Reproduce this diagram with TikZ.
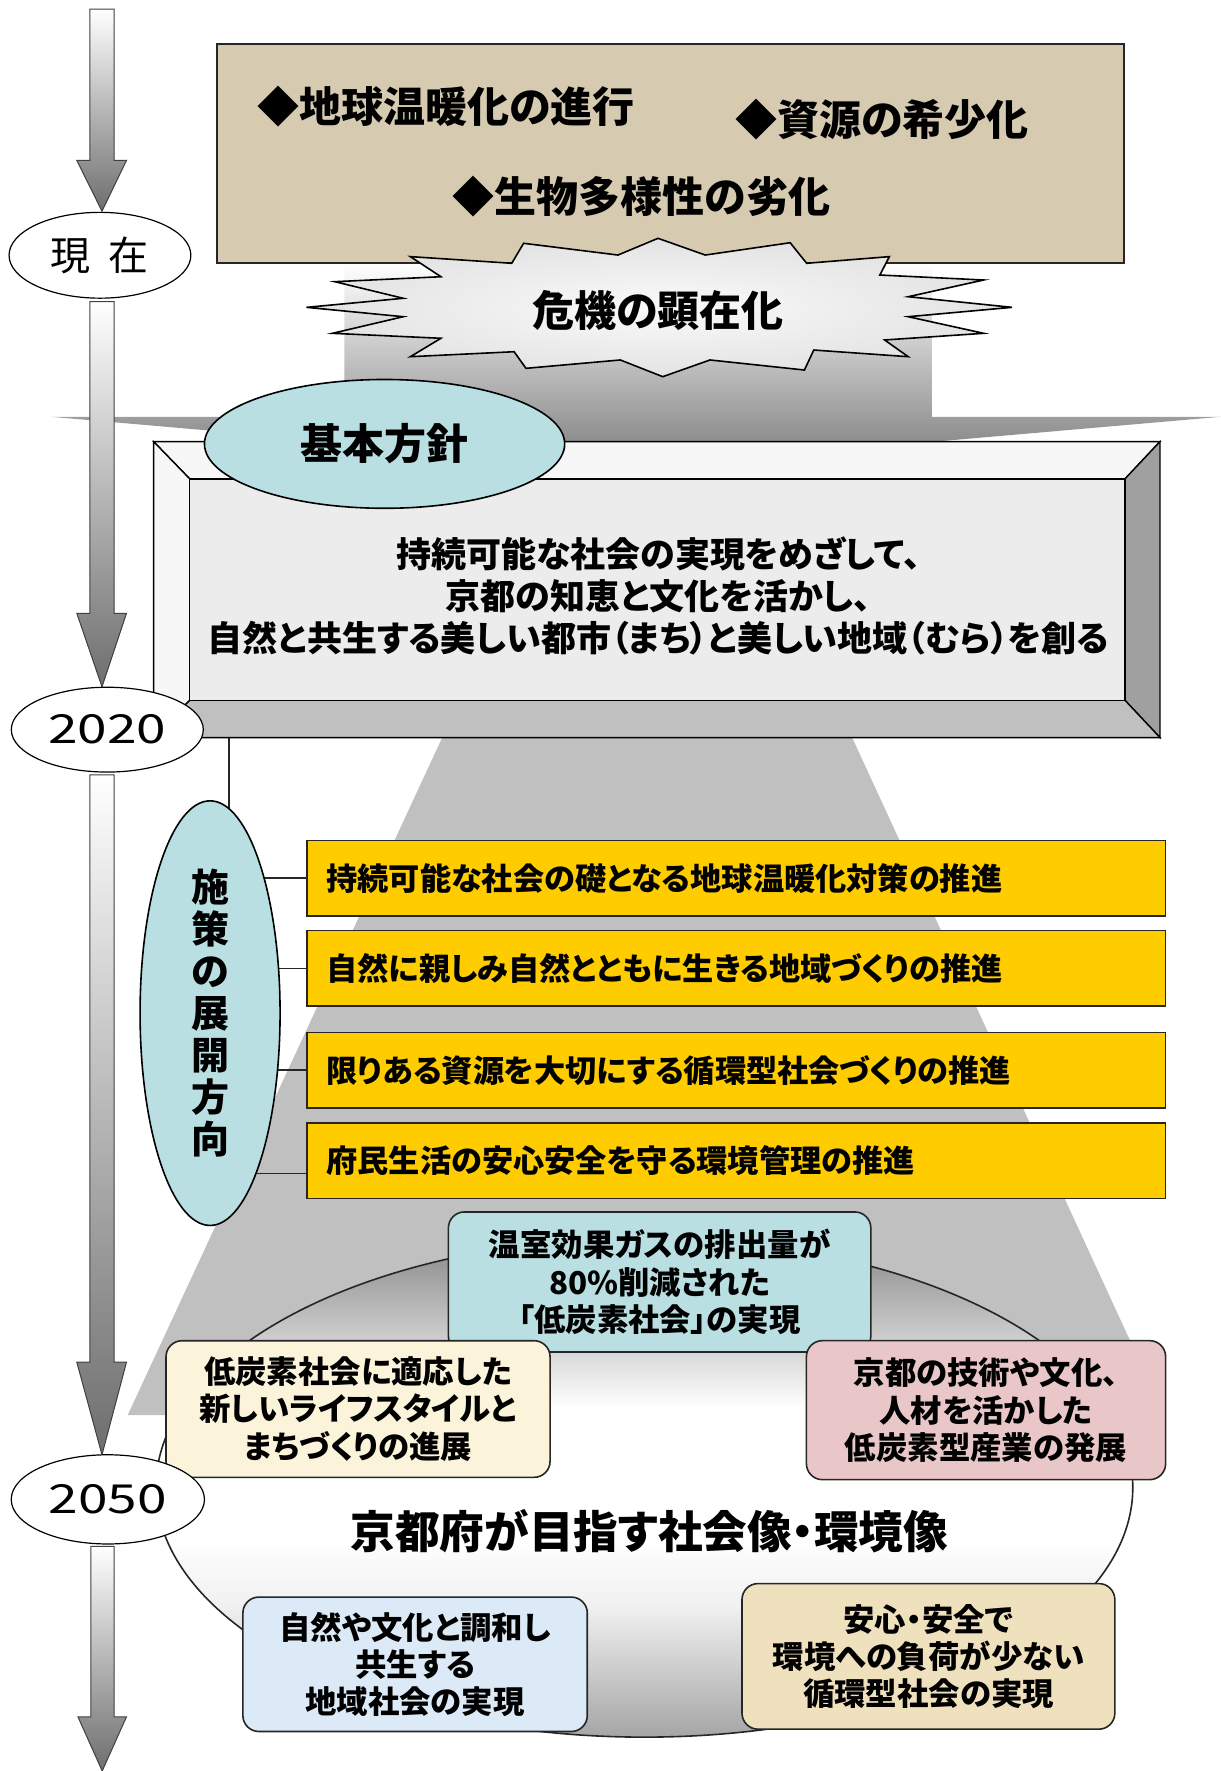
\documentclass[tikz,border=0pt]{standalone}
\usepackage{fontspec}
\usepackage{graphicx}
\setmainfont{Noto Sans CJK JP}[RawFeature=+palt]
\newfontfamily\plainjp{Noto Sans CJK JP}
\usetikzlibrary{shapes.geometric,calc}
\pgfdeclarelayer{back}
\pgfdeclarelayer{mid}
\pgfsetlayers{back,mid,main}
\definecolor{beige}{RGB}{214,202,177}
\definecolor{granite}{RGB}{236,236,236}
\definecolor{tealc}{RGB}{185,223,226}
\definecolor{yelc}{RGB}{255,204,0}
\definecolor{creamc}{RGB}{252,244,218}
\definecolor{pinkc}{RGB}{233,199,200}
\definecolor{lbluec}{RGB}{220,233,246}
\definecolor{tanc}{RGB}{240,225,190}
\definecolor{trapc}{RGB}{192,192,192}
\definecolor{wedgec}{RGB}{125,125,125}
\definecolor{arrc}{RGB}{110,110,110}
\definecolor{facetop}{RGB}{247,247,247}
\definecolor{faceright}{RGB}{160,160,160}
\definecolor{facebot}{RGB}{192,192,192}
\definecolor{shtop}{RGB}{135,135,135}
\definecolor{shbot}{RGB}{165,165,165}
\definecolor{shmid}{RGB}{240,240,240}
\pgfdeclareverticalshading{ballshade}{100bp}{color(0bp)=(shbot); color(25bp)=(shbot); color(38bp)=(shmid); color(45bp)=(white); color(58bp)=(white); color(75bp)=(shtop); color(100bp)=(shtop)}
\begin{document}
\begin{tikzpicture}[x=0.5647pt,y=-0.5647pt,
  every node/.style={inner sep=0pt, outer sep=0pt},
  bigtxt/.style={font=\bfseries\fontsize{21pt}{25pt}\selectfont},
  midtxt/.style={font=\bfseries\fontsize{17.5pt}{21pt}\selectfont},
  boxtxt/.style={font=\bfseries\fontsize{15.7pt}{18.6pt}\selectfont, align=center},
  yelbox/.style={draw=black!85, line width=0.8pt, fill=yelc, minimum width=429.2pt, minimum height=37.8pt, text width=409.9pt, inner xsep=9.6pt, align=left, anchor=north west, font=\bfseries\fontsize{15.6pt}{18pt}\selectfont},
  rbox/.style={draw=black!85, line width=0.8pt, rounded corners=8pt, boxtxt},
  timearrow/.style={draw=black!75, line width=0.5pt, top color=white, bottom color=arrc},
  timeell/.style={ellipse, draw=black, line width=0.6pt, fill=white, font=\plainjp\fontsize{20pt}{24pt}\selectfont},
  conn/.style={draw=black!85, line width=0.8pt}
]
\useasboundingbox (0,0) rectangle (1081,1568);
\clip (0,0) rectangle (1081,1568);

% background shapes
\begin{pgfonlayer}{back}
\fill[trapc] (392,652) -- (754,652) -- (1031,1253) -- (113,1253) -- cycle;
\shade[top color=white, bottom color=wedgec] (305,233) -- (825,233) -- (825,369) -- (1081,369) -- (563,414) -- (45,369) -- (305,369) -- cycle;
\end{pgfonlayer}

% timeline arrows
\draw[timearrow] (79.5,8) -- (101,8) -- (101,142) -- (112,142) -- (90.3,187) -- (68,142) -- (79.5,142) -- cycle;
\draw[timearrow] (79.5,267) -- (101,267) -- (101,543) -- (112,543) -- (90.3,608) -- (68,543) -- (79.5,543) -- cycle;
\draw[timearrow] (79.5,686) -- (101,686) -- (101,1206) -- (112,1206) -- (90.3,1288) -- (68,1206) -- (79.5,1206) -- cycle;
\draw[timearrow] (80.5,1369) -- (101,1369) -- (101,1520) -- (112,1520) -- (90.5,1568) -- (69,1520) -- (80.5,1520) -- cycle;

% top box with issues
\node[draw=black!85, line width=0.8pt, fill=beige, minimum width=453.5pt, minimum height=109.6pt, anchor=north west] (issues) at (192,39) {};
\node[bigtxt, anchor=west] (i1) at (228,94) {◆地球温暖化の進行};
\node[bigtxt] (i2) at (781,106) {◆資源の希少化};
\node[bigtxt] (i3) at (568,174) {◆生物多様性の劣化};

% starburst
\draw[black, line width=0.8pt, inner color=gray!4, outer color=gray!22]
 (582.6,211) -- (624.4,225.8) -- (699.6,214.9) -- (714.2,233.1) -- (787.4,227.2) -- (779,243.5) -- (870.9,247.9) -- (804.1,262.7) -- (896,272.1) -- (804.1,280.4) -- (870.9,295.1) -- (783.2,301) -- (804.1,315.8) -- (720.5,309.9) -- (712.2,327.6) -- (628.6,318.7) -- (586.8,333.5) -- (549.2,318.7) -- (465.7,326.1) -- (455.2,311.4) -- (363.3,315.8) -- (390.4,299.5) -- (294.4,295.1) -- (357,280.4) -- (271.4,272.1) -- (357,264.1) -- (296.4,249.4) -- (390.4,245) -- (363.3,227.2) -- (453.1,233.1) -- (463.6,215.4) -- (547.1,225.8) -- cycle;
\node[bigtxt] (crisis) at (582.5,275) {危機の顕在化};

% bevel frame
\draw[line width=0.7pt, fill=facetop] (136,391) -- (1027,391) -- (996,424) -- (168,424) -- cycle;
\draw[line width=0.7pt, fill=facetop] (136,391) -- (168,424) -- (168,620) -- (136,653) -- cycle;
\draw[line width=0.7pt, fill=faceright] (1027,391) -- (1027,653) -- (996,620) -- (996,424) -- cycle;
\draw[line width=0.7pt, fill=facebot] (136,653) -- (1027,653) -- (996,620) -- (168,620) -- cycle;
\node[draw, line width=0.7pt, fill=granite, minimum width=467.6pt, minimum height=110.7pt] (policybox) at (582,522) {};
\node[midtxt, align=center] (policy) at (583,528) {持続可能な社会の実現をめざして、\\京都の知恵と文化を活かし、\\自然と共生する美しい都市（まち）と美しい地域（むら）を創る};

% basic policy ellipse
\node[ellipse, draw, line width=0.8pt, fill=tealc, minimum width=180.1pt, minimum height=64.4pt, bigtxt] (kihon) at (340.5,393) {基本方針};

% 2020
\node[timeell, minimum width=96pt, minimum height=42.4pt] (t2020) at (95,646) {\raisebox{-2.2pt}{\scalebox{1.33}[1]{2020}}};

% direction ellipse and boxes
\node[ellipse, draw, line width=0.8pt, fill=tealc, minimum width=70pt, minimum height=212.3pt, align=center, font=\bfseries\fontsize{19pt}{21pt}\selectfont] (dir) at (186,897) {施\\策\\の\\展\\開\\方\\向};
\node[yelbox] (y1) at (272,744) {持続可能な社会の礎となる地球温暖化対策の推進};
\node[yelbox] (y2) at (272,824) {自然に親しみ自然とともに生きる地域づくりの推進};
\node[yelbox] (y3) at (272,914) {限りある資源を大切にする循環型社会づくりの推進};
\node[yelbox] (y4) at (272,994) {府民生活の安心安全を守る環境管理の推進};

\begin{pgfonlayer}{mid}
\coordinate (fb) at (203,653);
\draw[conn] (fb) -- (fb |- dir.center);
\draw[conn] (y1.west) -- (y1.west -| dir.center);
\draw[conn] (y2.west) -- (y2.west -| dir.center);
\draw[conn] (y3.west) -- (y3.west -| dir.center);
\coordinate (y4c) at ($(y4.south west)!0.33!(y4.north west)$);
\draw[conn] (y4c) -- (y4c -| dir.center);
\end{pgfonlayer}

% vision
\node[ellipse, draw=black!85, line width=0.8pt, shading=ballshade, minimum width=488.4pt, minimum height=249.6pt] (vision) at (570.5,1317) {};
\node[font=\bfseries\fontsize{22.3pt}{25pt}\selectfont] (visiontxt) at (575,1356) {京都府が目指す社会像・環境像};

\node[rbox, fill=tealc, minimum width=211.2pt, minimum height=70pt] (b1) at (584,1135) {温室効果ガスの排出量が\\80\%削減された\\「低炭素社会」の実現};
\node[rbox, fill=creamc, minimum width=192pt, minimum height=68.3pt] (b2) at (317,1247.5) {低炭素社会に適応した\\新しいライフスタイルと\\まちづくりの進展};
\node[rbox, fill=pinkc, minimum width=179.6pt, minimum height=69.5pt] (b3) at (873,1248.5) {京都の技術や文化、\\人材を活かした\\低炭素型産業の発展};
\node[rbox, fill=lbluec, minimum width=172.2pt, minimum height=67.2pt] (b4) at (367.5,1473.5) {自然や文化と調和し\\共生する\\地域社会の実現};
\node[rbox, fill=tanc, minimum width=186.4pt, minimum height=72.8pt] (b5) at (822,1466.5) {安心・安全で\\環境への負荷が少ない\\循環型社会の実現};

% time ellipses
\node[timeell, minimum width=90.9pt, minimum height=42.9pt] (now) at (88.5,226) {現\hspace{0.45em}在};
\node[timeell, minimum width=96.6pt, minimum height=44.6pt] (t2050) at (95.5,1327.5) {\raisebox{-1.5pt}{\scalebox{1.33}[1]{2050}}};
\end{tikzpicture}
\end{document}
